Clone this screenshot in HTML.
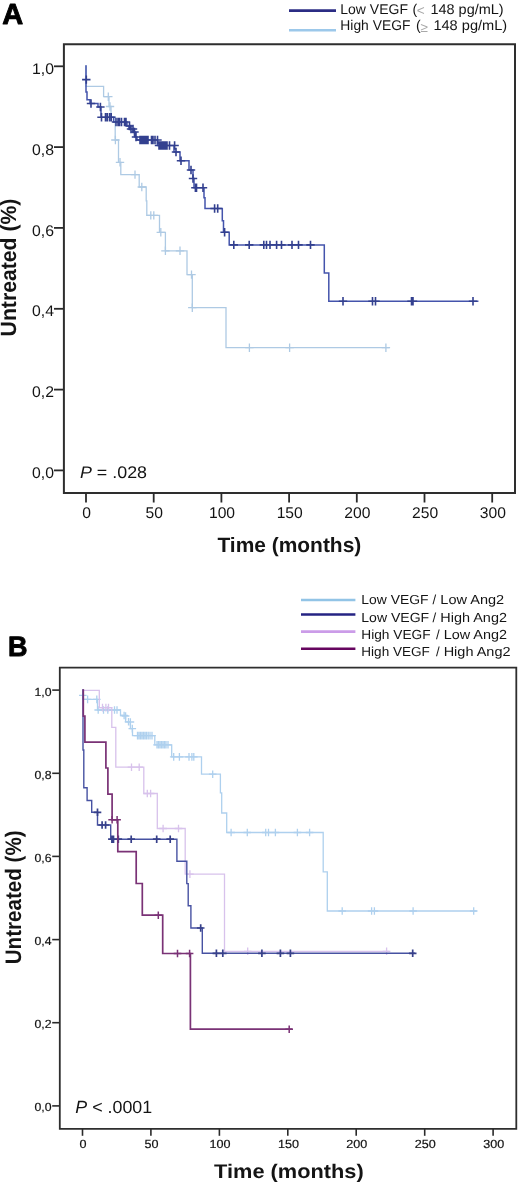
<!DOCTYPE html>
<html><head><meta charset="utf-8"><style>
text{font-family:"Liberation Sans", sans-serif;text-rendering:geometricPrecision;}
html,body{margin:0;padding:0;background:#fff;overflow:hidden;}
svg{display:block;filter:blur(0.3px);}
</style></head><body>
<svg width="520" height="1186" viewBox="0 0 520 1186">
<rect width="520" height="1186" fill="#fff"/>
<text transform="translate(2.30,23.90) scale(1.0000,1.0000)"  font-size="29.00" font-weight="bold" text-anchor="start" fill="#000" stroke="#000" stroke-width="0.9" stroke-linejoin="round">A</text>
<path d="M289,10.6 H336" stroke="#2b2c84" stroke-width="2.6"/>
<path d="M289,30.3 H336" stroke="#9cc8ea" stroke-width="2.6"/>
<text transform="translate(340.30,13.70) scale(0.9925,1.0000)"  font-size="14.10" font-weight="normal" text-anchor="start" fill="#141414">Low VEGF</text>
<text transform="translate(412.45,13.70) scale(1.0000,1.0000)"  font-size="14.10" font-weight="normal" text-anchor="start" fill="#141414">(</text>
<text transform="translate(430.39,13.70) scale(1.0275,1.0000)"  font-size="14.10" font-weight="normal" text-anchor="start" fill="#141414">148 pg/mL)</text>
<text transform="translate(340.31,30.40) scale(0.9829,1.0000)"  font-size="14.10" font-weight="normal" text-anchor="start" fill="#141414">High VEGF</text>
<text transform="translate(415.98,30.40) scale(1.0000,1.0000)"  font-size="14.10" font-weight="normal" text-anchor="start" fill="#141414">(</text>
<text transform="translate(433.38,30.40) scale(1.0348,1.0000)"  font-size="14.10" font-weight="normal" text-anchor="start" fill="#141414">148 pg/mL)</text>
<text transform="translate(416.83,14.82) scale(1.0000,1.0000)"  font-size="13.60" font-weight="normal" text-anchor="start" fill="#a8a8a8">&lt;</text>
<text transform="translate(420.57,31.50) scale(1.0000,1.0000)"  font-size="13.50" font-weight="normal" text-anchor="start" fill="#a8a8a8">&#8805;</text>
<path d="M63.9,44.2 V492.9 H515 V44.2 Z" fill="none" stroke="#2e2e2e" stroke-width="2"/>
<path d="M54,66.3 H63.5" stroke="#2a2a2a" stroke-width="1.8"/>
<text transform="translate(54.00,73.90) scale(1.0250,1.0000)"  font-size="15.40" font-weight="normal" text-anchor="end" fill="#141414">1,0</text>
<path d="M54,147.1 H63.5" stroke="#2a2a2a" stroke-width="1.8"/>
<text transform="translate(54.00,154.72) scale(1.0250,1.0000)"  font-size="15.40" font-weight="normal" text-anchor="end" fill="#141414">0,8</text>
<path d="M54,227.9 H63.5" stroke="#2a2a2a" stroke-width="1.8"/>
<text transform="translate(54.00,235.54) scale(1.0250,1.0000)"  font-size="15.40" font-weight="normal" text-anchor="end" fill="#141414">0,6</text>
<path d="M54,308.8 H63.5" stroke="#2a2a2a" stroke-width="1.8"/>
<text transform="translate(54.00,316.36) scale(1.0250,1.0000)"  font-size="15.40" font-weight="normal" text-anchor="end" fill="#141414">0,4</text>
<path d="M54,389.6 H63.5" stroke="#2a2a2a" stroke-width="1.8"/>
<text transform="translate(54.00,397.18) scale(1.0250,1.0000)"  font-size="15.40" font-weight="normal" text-anchor="end" fill="#141414">0,2</text>
<path d="M54,470.4 H63.5" stroke="#2a2a2a" stroke-width="1.8"/>
<text transform="translate(54.00,478.00) scale(1.0250,1.0000)"  font-size="15.40" font-weight="normal" text-anchor="end" fill="#141414">0,0</text>
<path d="M86.0,493 V502.5" stroke="#2a2a2a" stroke-width="1.8"/>
<text transform="translate(86.60,517.50) scale(1.0100,1.0000)"  font-size="15.50" font-weight="normal" text-anchor="middle" fill="#141414">0</text>
<path d="M153.7,493 V502.5" stroke="#2a2a2a" stroke-width="1.8"/>
<text transform="translate(154.30,517.50) scale(1.0100,1.0000)"  font-size="15.50" font-weight="normal" text-anchor="middle" fill="#141414">50</text>
<path d="M221.4,493 V502.5" stroke="#2a2a2a" stroke-width="1.8"/>
<text transform="translate(222.00,517.50) scale(1.0100,1.0000)"  font-size="15.50" font-weight="normal" text-anchor="middle" fill="#141414">100</text>
<path d="M289.1,493 V502.5" stroke="#2a2a2a" stroke-width="1.8"/>
<text transform="translate(289.70,517.50) scale(1.0100,1.0000)"  font-size="15.50" font-weight="normal" text-anchor="middle" fill="#141414">150</text>
<path d="M356.8,493 V502.5" stroke="#2a2a2a" stroke-width="1.8"/>
<text transform="translate(357.40,517.50) scale(1.0100,1.0000)"  font-size="15.50" font-weight="normal" text-anchor="middle" fill="#141414">200</text>
<path d="M424.5,493 V502.5" stroke="#2a2a2a" stroke-width="1.8"/>
<text transform="translate(425.10,517.50) scale(1.0100,1.0000)"  font-size="15.50" font-weight="normal" text-anchor="middle" fill="#141414">250</text>
<path d="M492.2,493 V502.5" stroke="#2a2a2a" stroke-width="1.8"/>
<text transform="translate(492.80,517.50) scale(1.0100,1.0000)"  font-size="15.50" font-weight="normal" text-anchor="middle" fill="#141414">300</text>
<text transform="translate(217.40,551.50) scale(1.0077,1.0000)"  font-size="20.79" font-weight="bold" text-anchor="start" fill="#141414">Time (months)</text>
<text transform="translate(16.40,336.40) rotate(-90) scale(1.0000,1.0400)"  font-size="21.20" font-weight="bold" text-anchor="start" fill="#141414">Untreated (%)</text>
<text transform="translate(79.97,478.10) scale(1.0597,1.0000)"  font-size="16.86" font-weight="normal" text-anchor="start" fill="#141414"><tspan font-style="italic">P</tspan> = .028</text>
<text transform="translate(7.90,656.10) scale(0.9600,1.0000)"  font-size="28.10" font-weight="bold" text-anchor="start" fill="#000" stroke="#000" stroke-width="0.9" stroke-linejoin="round">B</text>
<path d="M301,600.0 H355.4" stroke="#92c4e6" stroke-width="2.6"/>
<text transform="translate(361.27,604.30) scale(1.0629,1.0000)"  font-size="13.08" font-weight="normal" text-anchor="start" fill="#141414">Low VEGF</text>
<text transform="translate(432.61,604.30) scale(1.0000,1.0000)"  font-size="13.08" font-weight="normal" text-anchor="start" fill="#141414">/</text>
<text transform="translate(440.34,604.30) scale(1.1107,1.0000)"  font-size="13.08" font-weight="normal" text-anchor="start" fill="#141414">Low Ang2</text>
<path d="M301,614.5 H355.4" stroke="#252383" stroke-width="2.6"/>
<text transform="translate(361.27,621.70) scale(1.0629,1.0000)"  font-size="13.23" font-weight="normal" text-anchor="start" fill="#141414">Low VEGF</text>
<text transform="translate(432.61,621.70) scale(1.0000,1.0000)"  font-size="13.23" font-weight="normal" text-anchor="start" fill="#141414">/</text>
<text transform="translate(440.35,621.70) scale(1.0917,1.0000)"  font-size="13.23" font-weight="normal" text-anchor="start" fill="#141414">High Ang2</text>
<path d="M301,631.6 H355.4" stroke="#cb9ce8" stroke-width="2.6"/>
<text transform="translate(361.28,639.00) scale(1.0369,1.0000)"  font-size="13.23" font-weight="normal" text-anchor="start" fill="#141414">High VEGF</text>
<text transform="translate(435.89,639.00) scale(1.0000,1.0000)"  font-size="13.23" font-weight="normal" text-anchor="start" fill="#141414">/</text>
<text transform="translate(443.65,639.00) scale(1.0912,1.0000)"  font-size="13.23" font-weight="normal" text-anchor="start" fill="#141414">Low Ang2</text>
<path d="M301,648.8 H355.4" stroke="#66055f" stroke-width="2.6"/>
<text transform="translate(361.28,655.70) scale(1.0369,1.0000)"  font-size="13.08" font-weight="normal" text-anchor="start" fill="#141414">High VEGF</text>
<text transform="translate(435.89,655.70) scale(1.0000,1.0000)"  font-size="13.08" font-weight="normal" text-anchor="start" fill="#141414">/</text>
<text transform="translate(443.65,655.70) scale(1.1085,1.0000)"  font-size="13.08" font-weight="normal" text-anchor="start" fill="#141414">High Ang2</text>
<path d="M59.8,667.6 V1128.8 H516.3 V667.6 Z" fill="none" stroke="#2e2e2e" stroke-width="1.8"/>
<path d="M52.2,690.1 H59.5" stroke="#2a2a2a" stroke-width="1.6"/>
<text transform="translate(51.60,695.60) scale(1.0400,1.0000)"  font-size="11.80" font-weight="normal" text-anchor="end" fill="#141414" stroke="#141414" stroke-width="0.2">1,0</text>
<path d="M52.2,773.3 H59.5" stroke="#2a2a2a" stroke-width="1.6"/>
<text transform="translate(51.60,778.76) scale(1.0400,1.0000)"  font-size="11.80" font-weight="normal" text-anchor="end" fill="#141414" stroke="#141414" stroke-width="0.2">0,8</text>
<path d="M52.2,856.4 H59.5" stroke="#2a2a2a" stroke-width="1.6"/>
<text transform="translate(51.60,861.92) scale(1.0400,1.0000)"  font-size="11.80" font-weight="normal" text-anchor="end" fill="#141414" stroke="#141414" stroke-width="0.2">0,6</text>
<path d="M52.2,939.6 H59.5" stroke="#2a2a2a" stroke-width="1.6"/>
<text transform="translate(51.60,945.08) scale(1.0400,1.0000)"  font-size="11.80" font-weight="normal" text-anchor="end" fill="#141414" stroke="#141414" stroke-width="0.2">0,4</text>
<path d="M52.2,1022.7 H59.5" stroke="#2a2a2a" stroke-width="1.6"/>
<text transform="translate(51.60,1028.24) scale(1.0400,1.0000)"  font-size="11.80" font-weight="normal" text-anchor="end" fill="#141414" stroke="#141414" stroke-width="0.2">0,2</text>
<path d="M52.2,1105.9 H59.5" stroke="#2a2a2a" stroke-width="1.6"/>
<text transform="translate(51.60,1111.40) scale(1.0400,1.0000)"  font-size="11.80" font-weight="normal" text-anchor="end" fill="#141414" stroke="#141414" stroke-width="0.2">0,0</text>
<path d="M82.5,1129 V1135.8" stroke="#2a2a2a" stroke-width="1.6"/>
<text transform="translate(83.10,1147.50) scale(1.0670,1.0000)"  font-size="11.80" font-weight="normal" text-anchor="middle" fill="#141414" stroke="#141414" stroke-width="0.2">0</text>
<path d="M150.9,1129 V1135.8" stroke="#2a2a2a" stroke-width="1.6"/>
<text transform="translate(151.53,1147.50) scale(1.0670,1.0000)"  font-size="11.80" font-weight="normal" text-anchor="middle" fill="#141414" stroke="#141414" stroke-width="0.2">50</text>
<path d="M219.4,1129 V1135.8" stroke="#2a2a2a" stroke-width="1.6"/>
<text transform="translate(219.97,1147.50) scale(1.0670,1.0000)"  font-size="11.80" font-weight="normal" text-anchor="middle" fill="#141414" stroke="#141414" stroke-width="0.2">100</text>
<path d="M287.8,1129 V1135.8" stroke="#2a2a2a" stroke-width="1.6"/>
<text transform="translate(288.41,1147.50) scale(1.0670,1.0000)"  font-size="11.80" font-weight="normal" text-anchor="middle" fill="#141414" stroke="#141414" stroke-width="0.2">150</text>
<path d="M356.2,1129 V1135.8" stroke="#2a2a2a" stroke-width="1.6"/>
<text transform="translate(356.84,1147.50) scale(1.0670,1.0000)"  font-size="11.80" font-weight="normal" text-anchor="middle" fill="#141414" stroke="#141414" stroke-width="0.2">200</text>
<path d="M424.7,1129 V1135.8" stroke="#2a2a2a" stroke-width="1.6"/>
<text transform="translate(425.28,1147.50) scale(1.0670,1.0000)"  font-size="11.80" font-weight="normal" text-anchor="middle" fill="#141414" stroke="#141414" stroke-width="0.2">250</text>
<path d="M493.1,1129 V1135.8" stroke="#2a2a2a" stroke-width="1.6"/>
<text transform="translate(493.71,1147.50) scale(1.0670,1.0000)"  font-size="11.80" font-weight="normal" text-anchor="middle" fill="#141414" stroke="#141414" stroke-width="0.2">300</text>
<text transform="translate(214.05,1178.10) scale(1.1022,1.0000)"  font-size="19.77" font-weight="bold" text-anchor="start" fill="#141414">Time (months)</text>
<text transform="translate(21.30,964.30) rotate(-90) scale(1.0000,1.0900)"  font-size="20.60" font-weight="bold" text-anchor="start" fill="#141414">Untreated (%)</text>
<text transform="translate(75.30,1113.00) scale(1.0067,1.0000)"  font-size="17.73" font-weight="normal" text-anchor="start" fill="#141414"><tspan font-style="italic">P</tspan> &lt; .0001</text>
<path d="M86,66 V86.3 H103.6 V96.7 H109 V106.5 H111 V117 H115.2 V140 H118.5 V162.3 H120.8 V174.6 H139.2 V187 H146.2 V200.8 H146.8 V215.4 H159.5 V232.3 H165.4 V250.8 H187 V274.6 H192.3 V307.7 H226 V347.7 H388.8" fill="none" stroke="#aecae4" stroke-width="1.3" stroke-linejoin="miter" stroke-linecap="square"/>
<path d="M108.3,92.5V100.9M104.1,96.7H112.5M110.0,102.3V110.7M105.8,106.5H114.2M115.4,135.8V144.2M111.2,140.0H119.6M120.0,158.1V166.5M115.8,162.3H124.2M135.0,170.4V178.8M130.8,174.6H139.2M141.8,182.8V191.2M137.6,187.0H146.0M150.8,211.2V219.6M146.6,215.4H155.0M153.8,211.2V219.6M149.6,215.4H158.0M160.8,228.1V236.5M156.6,232.3H165.0M165.4,246.6V255.0M161.2,250.8H169.6M180.0,246.6V255.0M175.8,250.8H184.2M191.5,270.4V278.8M187.3,274.6H195.7M192.3,303.5V311.9M188.1,307.7H196.5M249.4,343.5V351.9M245.2,347.7H253.6M289.6,343.5V351.9M285.4,347.7H293.8M385.9,343.5V351.9M381.7,347.7H390.1" fill="none" stroke="#aecae4" stroke-width="1.3"/>
<path d="M86,66 V92 H87 V99.8 H90 V103.5 H98 V107 H101 V117.3 H113.6 V122 H127 V126 H129 V129 H133 V132 H135 V137 H137 V140 H157.5 V145.5 H174 V152 H180 V160.8 H189 V170 H193 V178.5 H194 V187.7 H204 V197.7 H205 V208.5 H222.3 V220.8 H223.5 V232.3 H229.2 V244.9 H324.3 V273.1 H328.8 V301.3 H477.7" fill="none" stroke="#4454ac" stroke-width="1.5" stroke-linejoin="miter" stroke-linecap="square"/>
<path d="M86.3,75.4V83.8M82.1,79.6H90.5M91.0,99.3V107.7M86.8,103.5H95.2M100.4,102.8V111.2M96.2,107.0H104.6M101.5,113.1V121.5M97.3,117.3H105.7M105.5,113.1V121.5M101.3,117.3H109.7M107.2,113.1V121.5M103.0,117.3H111.4M109.5,113.1V121.5M105.3,117.3H113.7M111.2,113.1V121.5M107.0,117.3H115.4M116.0,117.8V126.2M111.8,122.0H120.2M118.0,117.8V126.2M113.8,122.0H122.2M119.5,117.8V126.2M115.3,122.0H123.7M121.5,117.8V126.2M117.3,122.0H125.7M124.5,117.8V126.2M120.3,122.0H128.7M126.0,117.8V126.2M121.8,122.0H130.2M129.5,121.8V130.2M125.3,126.0H133.7M131.0,124.8V133.2M126.8,129.0H135.2M133.0,124.8V133.2M128.8,129.0H137.2M134.5,127.8V136.2M130.3,132.0H138.7M136.0,132.8V141.2M131.8,137.0H140.2M140.0,135.8V144.2M135.8,140.0H144.2M141.6,135.8V144.2M137.4,140.0H145.8M143.2,135.8V144.2M139.0,140.0H147.4M144.8,135.8V144.2M140.6,140.0H149.0M146.4,135.8V144.2M142.2,140.0H150.6M148.0,135.8V144.2M143.8,140.0H152.2M151.5,135.8V144.2M147.3,140.0H155.7M153.0,135.8V144.2M148.8,140.0H157.2M155.0,135.8V144.2M150.8,140.0H159.2M157.5,135.8V144.2M153.3,140.0H161.7M159.0,141.3V149.7M154.8,145.5H163.2M160.6,141.3V149.7M156.4,145.5H164.8M162.2,141.3V149.7M158.0,145.5H166.4M163.8,141.3V149.7M159.6,145.5H168.0M165.4,141.3V149.7M161.2,145.5H169.6M167.0,141.3V149.7M162.8,145.5H171.2M169.5,141.3V149.7M165.3,145.5H173.7M174.6,141.3V149.7M170.4,145.5H178.8M176.0,147.8V156.2M171.8,152.0H180.2M181.0,156.6V165.0M176.8,160.8H185.2M191.0,165.8V174.2M186.8,170.0H195.2M193.0,174.3V182.7M188.8,178.5H197.2M195.4,183.5V191.9M191.2,187.7H199.6M196.5,183.5V191.9M192.3,187.7H200.7M203.0,183.5V191.9M198.8,187.7H207.2M214.6,204.3V212.7M210.4,208.5H218.8M217.7,204.3V212.7M213.5,208.5H221.9M224.6,228.1V236.5M220.4,232.3H228.8M233.8,240.7V249.1M229.6,244.9H238.0M249.2,240.7V249.1M245.0,244.9H253.4M263.8,240.7V249.1M259.6,244.9H268.0M266.5,240.7V249.1M262.3,244.9H270.7M270.0,240.7V249.1M265.8,244.9H274.2M276.6,240.7V249.1M272.4,244.9H280.8M281.5,240.7V249.1M277.3,244.9H285.7M292.0,240.7V249.1M287.8,244.9H296.2M298.5,240.7V249.1M294.3,244.9H302.7M310.5,240.7V249.1M306.3,244.9H314.7M343.0,297.1V305.5M338.8,301.3H347.2M372.5,297.1V305.5M368.3,301.3H376.7M375.5,297.1V305.5M371.3,301.3H379.7M411.5,297.1V305.5M407.3,301.3H415.7M413.0,297.1V305.5M408.8,301.3H417.2M473.0,297.1V305.5M468.8,301.3H477.2" fill="none" stroke="#33408f" stroke-width="1.6"/>
<path d="M82.8,690 V699.4 H97.5 V710 H120.5 V715.5 H125.6 V721.8 H130.4 V728.6 H132.5 V735.6 H154.8 V744.8 H171.7 V756.9 H201.5 V774.2 H220.4 V792.9 H221.7 V813 H226.7 V832.5 H323.2 V871.9 H327.3 V911 H476.1" fill="none" stroke="#aed0ee" stroke-width="1.3" stroke-linejoin="miter" stroke-linecap="square"/>
<path d="M82.8,691.5V699.1M79.0,695.3H86.6M87.6,695.6V703.2M83.8,699.4H91.4M96.8,695.6V703.2M93.0,699.4H100.6M98.2,706.2V713.8M94.4,710.0H102.0M103.5,706.2V713.8M99.7,710.0H107.3M107.8,706.2V713.8M104.0,710.0H111.6M114.5,706.2V713.8M110.7,710.0H118.3M117.0,706.2V713.8M113.2,710.0H120.8M124.1,711.7V719.3M120.3,715.5H127.9M125.6,712.2V719.8M121.8,716.0H129.4M128.5,718.0V725.6M124.7,721.8H132.3M130.4,718.2V725.8M126.6,722.0H134.2M132.3,724.8V732.4M128.5,728.6H136.1M137.5,731.8V739.4M133.7,735.6H141.3M139.0,731.8V739.4M135.2,735.6H142.8M140.5,731.8V739.4M136.7,735.6H144.3M142.0,731.8V739.4M138.2,735.6H145.8M143.5,731.8V739.4M139.7,735.6H147.3M145.0,731.8V739.4M141.2,735.6H148.8M146.5,731.8V739.4M142.7,735.6H150.3M148.2,731.8V739.4M144.4,735.6H152.0M150.0,731.8V739.4M146.2,735.6H153.8M152.0,731.8V739.4M148.2,735.6H155.8M157.0,741.0V748.6M153.2,744.8H160.8M158.5,741.0V748.6M154.7,744.8H162.3M160.0,741.0V748.6M156.2,744.8H163.8M161.5,741.0V748.6M157.7,744.8H165.3M163.0,741.0V748.6M159.2,744.8H166.8M164.5,741.0V748.6M160.7,744.8H168.3M166.0,741.0V748.6M162.2,744.8H169.8M168.0,741.0V748.6M164.2,744.8H171.8M173.7,753.1V760.7M169.9,756.9H177.5M179.4,753.1V760.7M175.6,756.9H183.2M189.0,753.1V760.7M185.2,756.9H192.8M191.9,753.1V760.7M188.1,756.9H195.7M193.8,753.1V760.7M190.0,756.9H197.6M212.7,770.4V778.0M208.9,774.2H216.5M231.1,828.7V836.3M227.3,832.5H234.9M247.3,828.7V836.3M243.5,832.5H251.1M265.7,828.7V836.3M261.9,832.5H269.5M268.5,828.7V836.3M264.7,832.5H272.3M275.4,828.7V836.3M271.6,832.5H279.2M297.4,828.7V836.3M293.6,832.5H301.2M309.6,828.7V836.3M305.8,832.5H313.4M342.2,907.2V914.8M338.4,911.0H346.0M371.6,907.2V914.8M367.8,911.0H375.4M374.4,907.2V914.8M370.6,911.0H378.2M413.1,907.2V914.8M409.3,911.0H416.9M473.7,907.2V914.8M469.9,911.0H477.5" fill="none" stroke="#aed0ee" stroke-width="1.3"/>
<path d="M83.3,690.3 H99.3 V707.6 H111.8 V727.4 H115.8 V767.2 H143.8 V793.5 H157.3 V828.5 H185.2 V874.1 H224.5 V951.3 H388.9" fill="none" stroke="#d8c2ec" stroke-width="1.3" stroke-linejoin="miter" stroke-linecap="square"/>
<path d="M102.5,703.8V711.4M98.7,707.6H106.3M105.9,703.8V711.4M102.1,707.6H109.7M108.5,703.8V711.4M104.7,707.6H112.3M131.5,763.4V771.0M127.7,767.2H135.3M139.2,763.4V771.0M135.4,767.2H143.0M147.3,789.7V797.3M143.5,793.5H151.1M150.6,789.7V797.3M146.8,793.5H154.4M163.1,824.7V832.3M159.3,828.5H166.9M178.5,824.7V832.3M174.7,828.5H182.3M189.9,870.3V877.9M186.1,874.1H193.7M247.7,947.5V955.1M243.9,951.3H251.5M386.6,947.5V955.1M382.8,951.3H390.4" fill="none" stroke="#d8c2ec" stroke-width="1.3"/>
<path d="M83,690 V750 H83.8 V787.8 H87.1 V800.5 H91.7 V812.3 H97.5 V825 H110.7 V839.2 H176.9 V861.2 H186.8 V883.6 H188.2 V905.8 H190.9 V928 H202.3 V953.3 H414.3" fill="none" stroke="#4752a2" stroke-width="1.4" stroke-linejoin="miter" stroke-linecap="square"/>
<path d="M97.5,808.5V816.1M93.7,812.3H101.3M102.1,821.2V828.8M98.3,825.0H105.9M105.6,821.2V828.8M101.8,825.0H109.4M111.9,835.4V843.0M108.1,839.2H115.7M113.5,835.4V843.0M109.7,839.2H117.3M118.3,835.4V843.0M114.5,839.2H122.1M131.2,835.4V843.0M127.4,839.2H135.0M156.7,835.4V843.0M152.9,839.2H160.5M170.2,835.4V843.0M166.4,839.2H174.0M200.7,924.2V931.8M196.9,928.0H204.5M216.4,949.5V957.1M212.6,953.3H220.2M222.8,949.5V957.1M219.0,953.3H226.6M261.9,949.5V957.1M258.1,953.3H265.7M280.4,949.5V957.1M276.6,953.3H284.2M290.4,949.5V957.1M286.6,953.3H294.2M412.7,949.5V957.1M408.9,953.3H416.5" fill="none" stroke="#37408a" stroke-width="1.7"/>
<path d="M83.3,690 V716.2 H84.9 V742.1 H105.9 V768 H107.9 V794.1 H112.1 V819.8 H117.8 V851.7 H136.2 V883.5 H142.3 V915.2 H162.7 V953.5 H190.4 V1029.2 H291.6" fill="none" stroke="#7a3276" stroke-width="1.7" stroke-linejoin="miter" stroke-linecap="square"/>
<path d="M112.1,816.0V823.6M108.3,819.8H115.9M117.1,816.0V823.6M113.3,819.8H120.9M158.3,911.4V919.0M154.5,915.2H162.1M177.5,949.7V957.3M173.7,953.5H181.3M189.6,949.7V957.3M185.8,953.5H193.4M289.2,1025.4V1033.0M285.4,1029.2H293.0" fill="none" stroke="#7a3276" stroke-width="1.5"/>
</svg>
</body></html>
